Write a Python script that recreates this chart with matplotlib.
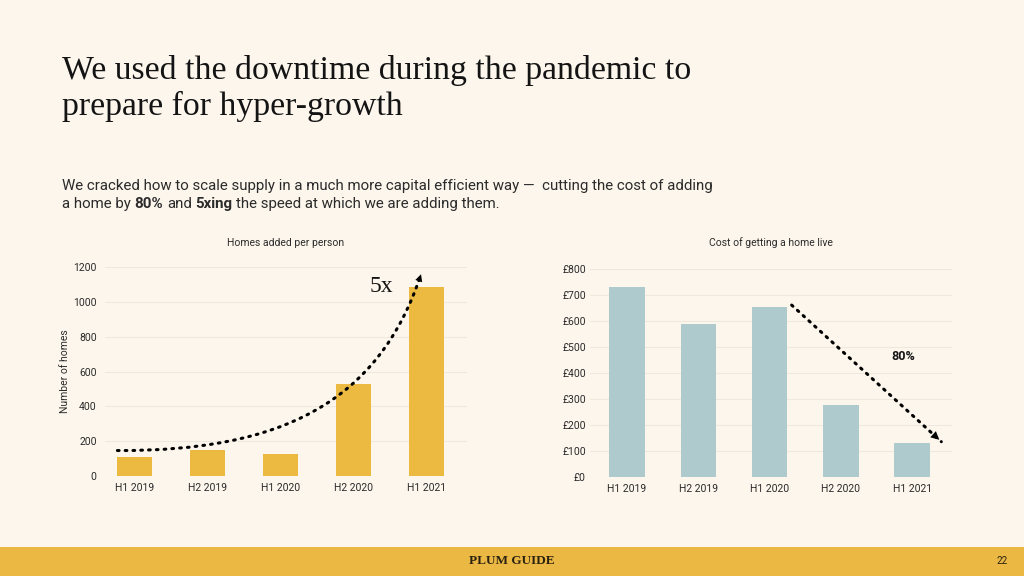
import matplotlib.pyplot as plt
from matplotlib.path import Path
from matplotlib.patches import PathPatch, Rectangle

# data
periods = ["H1 2019", "H2 2019", "H1 2020", "H2 2020", "H1 2021"]
homes_added = [105, 150, 125, 530, 1085]
cost_per_home = [730, 590, 655, 275, 130]

home_ticks = [0, 200, 400, 600, 800, 1000, 1200]
cost_ticks = [0, 100, 200, 300, 400, 500, 600, 700, 800]
cost_labels = ["£" + str(v) for v in cost_ticks]

# annotation anchors (data coords)
growth_start = (-0.23, 145)
growth_end = (3.93, 1160)
drop_start = (2.31, 662)
drop_end = (4.41, 135)

bg = "#FCF6EC"
yellow = "#EDBA41"
blue = "#AFCACD"
grid_col = "#EFE8DC"
txt = "#2b2b2b"
serif = "Liberation Serif"
sans = "Roboto"
dots = (0, (0.55, 2.0))

fig = plt.figure(figsize=(10.24, 5.76), dpi=100)
fig.patch.set_facecolor(bg)

# footer band
fig.patches.append(Rectangle((0, 0), 1, 29 / 576, transform=fig.transFigure,
                             facecolor="#EBB843", edgecolor="none", zorder=0))
fig.text(0.5, 15 / 576, "PLUM GUIDE", ha="center", va="center",
         family=serif, fontsize=9.5, weight="bold", color="#2a2111")
fig.text(0.979, 15 / 576, "22", ha="center", va="center",
         family=sans, fontsize=7, color="#2a2111")

# headline
fig.text(62 / 1024, 1 - 79 / 576, "We used the downtime during the pandemic to",
         family=serif, fontsize=24.3, color="#141414", va="baseline")
fig.text(62 / 1024, 1 - 115 / 576, "prepare for hyper-growth",
         family=serif, fontsize=24.3, color="#141414", va="baseline")

# subtitle with bold bits, placed piece by piece
fig.text(62 / 1024, 1 - 190 / 576,
         "We cracked how to scale supply in a much more capital efficient way \u2014  cutting the cost of adding",
         family=sans, fontsize=10.8, color=txt, va="baseline")

renderer = fig.canvas.get_renderer()


def text_width(s, weight):
    t = fig.text(0, 0, s, family=sans, fontsize=10.8, weight=weight)
    w = t.get_window_extent(renderer).width
    t.remove()
    return w


space = text_width("x x", "normal") - text_width("xx", "normal")
pieces = [("a home by", "normal"), ("80%", "bold"), ("and", "normal"),
          ("5xing", "bold"), ("the speed at which we are adding them.", "normal")]
xpos = 62
for s, w in pieces:
    fig.text(xpos / 1024, 1 - 208 / 576, s, family=sans, fontsize=10.8,
             weight=w, color=txt, va="baseline")
    xpos += text_width(s, w) + space


def style_axis(ax):
    ax.set_facecolor(bg)
    for sp in ax.spines.values():
        sp.set_visible(False)
    ax.tick_params(length=0, labelsize=7.5, colors=txt)
    ax.grid(axis="y", color=grid_col, lw=0.8)
    ax.set_axisbelow(True)
    for lab in ax.get_xticklabels() + ax.get_yticklabels():
        lab.set_family(sans)


# left chart: homes added
ax1 = fig.add_axes([105 / 1024, 100.3 / 576, 362 / 1024, 208.4 / 576])
x = range(len(periods))
ax1.bar(x, homes_added, width=0.48, color=yellow, zorder=2)
ax1.set_xlim(-0.4, 4.56)
ax1.set_ylim(0, 1200)
ax1.set_yticks(home_ticks)
ax1.set_xticks(list(x))
ax1.set_xticklabels(periods)
ax1.tick_params(axis="y", pad=6)
ax1.tick_params(axis="x", pad=5)
ax1.set_ylabel("Number of homes", family=sans, fontsize=7.5, color=txt, labelpad=2)
ax1.set_title("Homes added per person", family=sans, fontsize=7.5, color=txt, pad=15)
style_axis(ax1)

# curved dotted growth line
curve = Path([growth_start, (2.0, 140), (3.35, 420), growth_end],
             [Path.MOVETO, Path.CURVE4, Path.CURVE4, Path.CURVE4])
ax1.add_patch(PathPatch(curve, fill=False, edgecolor="black", lw=2.2,
                        linestyle=dots, capstyle="round",
                        clip_on=False, zorder=4))
ax1.annotate("", xy=growth_end, xytext=(3.35 + 0.96 * (growth_end[0] - 3.35),
                                        420 + 0.96 * (growth_end[1] - 420)),
             arrowprops=dict(arrowstyle="-|>", color="black", lw=0,
                             mutation_scale=13), annotation_clip=False, zorder=5)
ax1.text(3.38, 1088, "5x", family=serif, fontsize=17, color="#141414",
         ha="center", va="center")

# right chart: cost of getting a home live
ax2 = fig.add_axes([590 / 1024, 99.3 / 576, 362 / 1024, 207.4 / 576])
ax2.bar(x, cost_per_home, width=0.5, color=blue, zorder=2)
ax2.set_xlim(-0.52, 4.56)
ax2.set_ylim(0, 800)
ax2.set_yticks(cost_ticks)
ax2.set_yticklabels(cost_labels)
ax2.set_xticks(list(x))
ax2.set_xticklabels(periods)
ax2.tick_params(axis="y", pad=3)
ax2.tick_params(axis="x", pad=5)
ax2.set_title("Cost of getting a home live", family=sans, fontsize=7.5, color=txt, pad=17)
style_axis(ax2)

ax2.plot([drop_start[0], drop_end[0]], [drop_start[1], drop_end[1]], color="black",
         lw=2.2, linestyle=dots, dash_capstyle="round", zorder=4,
         clip_on=False)
ax2.annotate("", xy=drop_end, xytext=(drop_end[0] - 0.08, drop_end[1] + 20),
             arrowprops=dict(arrowstyle="-|>", color="black", lw=0,
                             mutation_scale=15), annotation_clip=False, zorder=5)
ax2.text(3.87, 463, "80%", family=sans, fontsize=9, weight="bold", color="#141414",
         ha="center", va="center")

fig.savefig("out.png", dpi=100, facecolor=bg)
